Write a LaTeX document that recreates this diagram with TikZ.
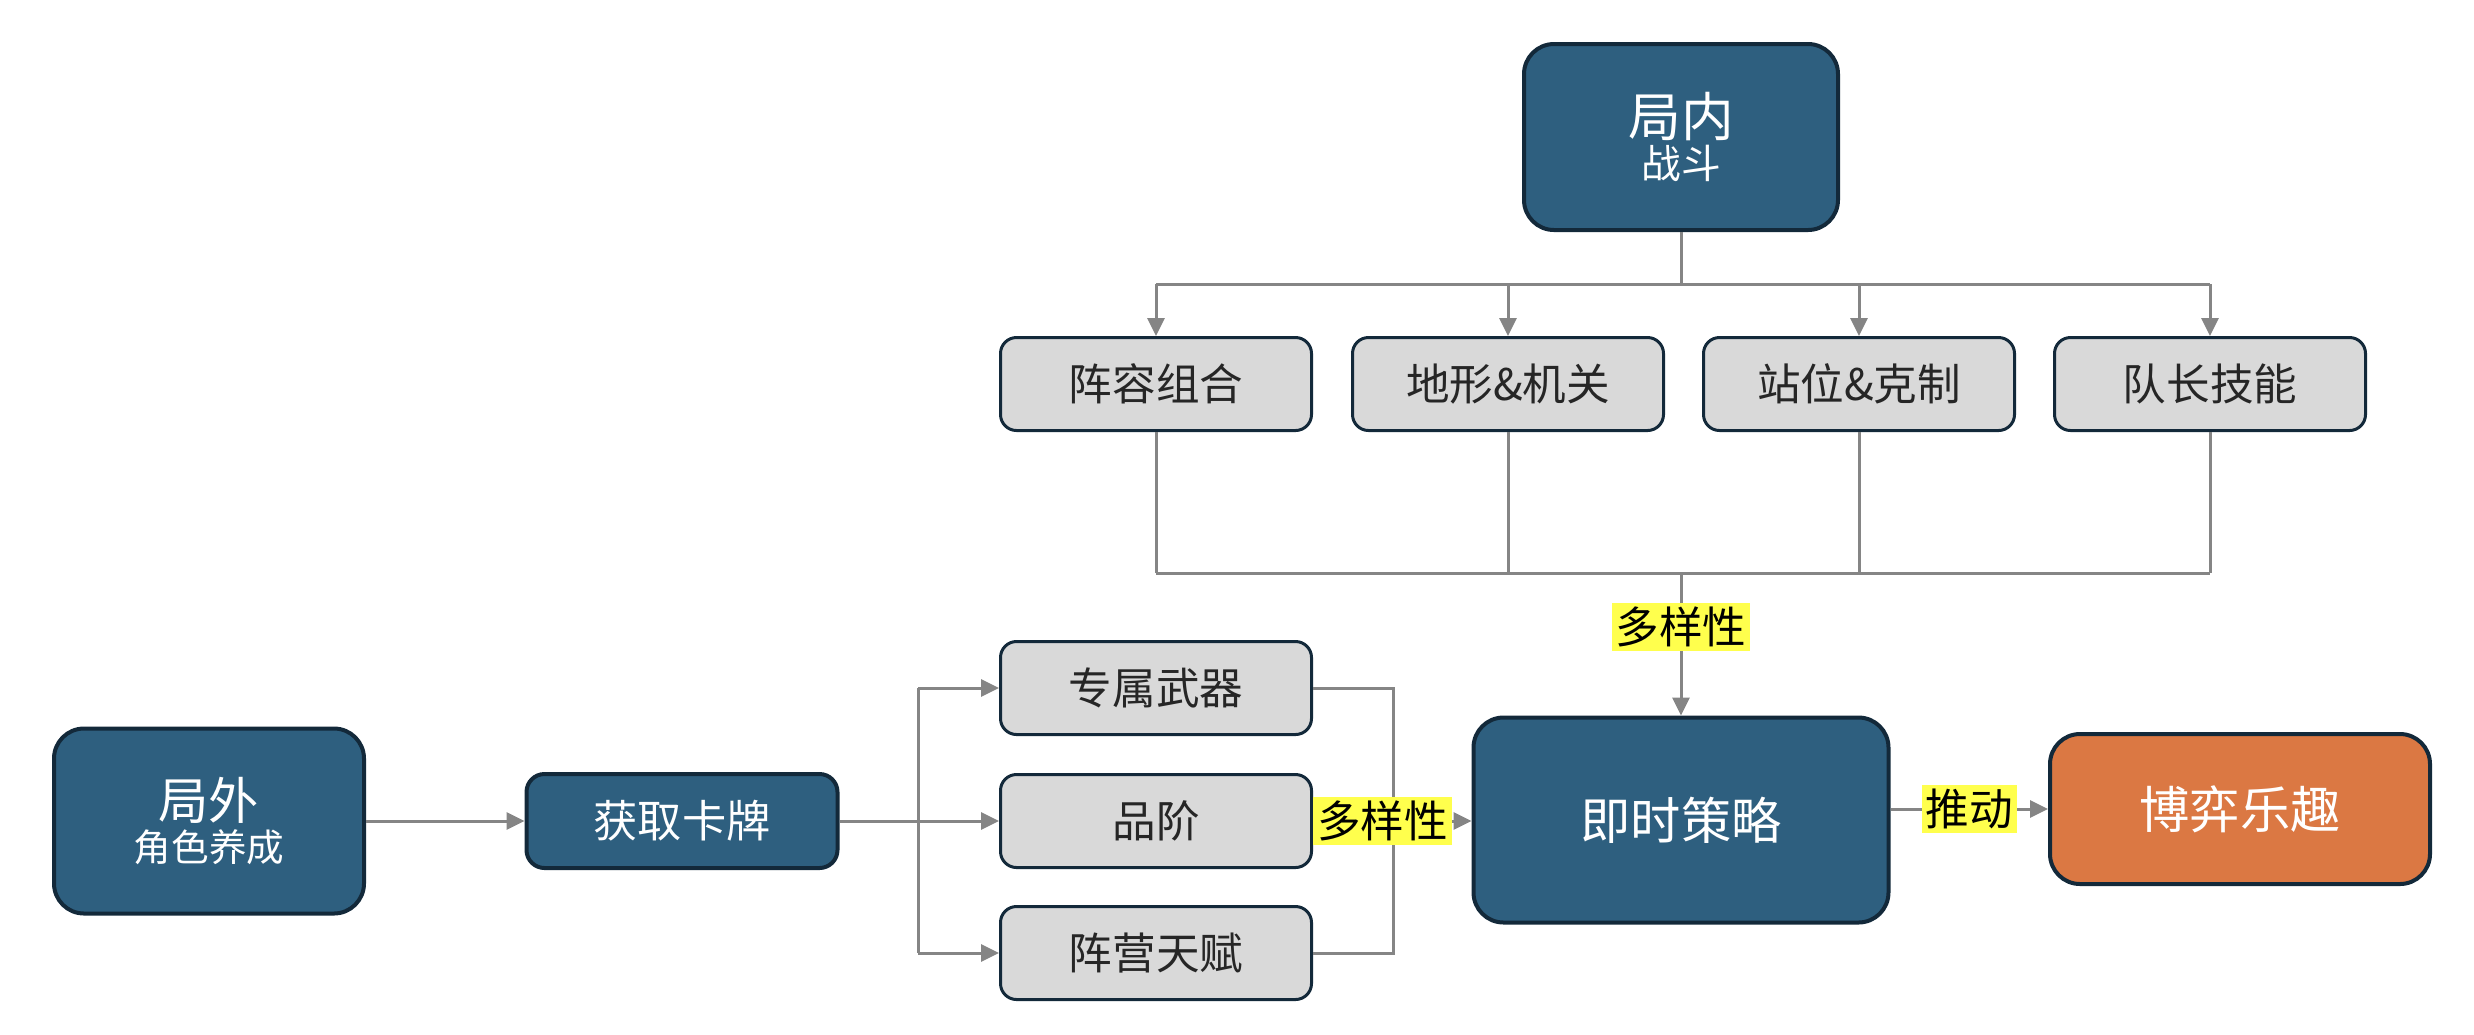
\documentclass[tikz,border=0pt]{standalone}
\usepackage{fontspec}
\setmainfont{Noto Sans CJK SC}
\usetikzlibrary{arrows.meta}
\definecolor{dblue}{HTML}{2E5F7F}
\definecolor{dborder}{HTML}{13293A}
\definecolor{gfill}{HTML}{D9D9D9}
\definecolor{gtext}{HTML}{262626}
\definecolor{ofill}{HTML}{DB7843}
\definecolor{cgray}{HTML}{858585}
\definecolor{hyel}{HTML}{FFFF4D}
\tikzset{
  bluebox/.style={draw=dborder, line width=0.4mm, fill=dblue, rounded corners=3mm, text=white, align=center, inner sep=0pt},
  graybox/.style={draw=dborder, line width=0.3mm, fill=gfill, rounded corners=1.6mm, text=gtext, align=center, inner sep=0pt,
    minimum width=31.1mm, minimum height=9.3mm, font=\fontsize{12.4pt}{14pt}\selectfont},
  orangebox/.style={draw=dborder, line width=0.4mm, fill=ofill, rounded corners=3mm, text=white, align=center, inner sep=0pt},
  conn/.style={draw=cgray, line width=0.3mm},
  arr/.style={conn, -{Triangle[length=1.8mm, width=1.7mm]}},
  hlabel/.style={fill=hyel, text=black, inner sep=0.4mm, font=\fontsize{12.4pt}{14pt}\selectfont}
}
\begin{document}
\begin{tikzpicture}[x=0.1mm, y=-0.1mm]
\useasboundingbox (0,0) rectangle (2474,1034);
% top
\node[bluebox, minimum width=31.4mm, minimum height=18.6mm] (nei) at (1681,137)
  {{\fontsize{15pt}{13pt}\selectfont 局内}\\{\fontsize{11.3pt}{13pt}\selectfont 战斗}};
\node[graybox] (a1) at (1156,384) {阵容组合};
\node[graybox] (a2) at (1508,384) {地形\&机关};
\node[graybox] (a3) at (1859,384) {站位\&克制};
\node[graybox] (a4) at (2210,384) {队长技能};
% centre
\node[bluebox, minimum width=41.5mm, minimum height=20.5mm, font=\fontsize{14.3pt}{17pt}\selectfont] (js) at (1681,820) {即时策略};
\node[orangebox, minimum width=38mm, minimum height=15mm, font=\fontsize{14.3pt}{17pt}\selectfont] (by) at (2240,809) {博弈乐趣};
% left
\node[bluebox, minimum width=31mm, minimum height=18.5mm] (wai) at (209,821)
  {{\fontsize{14.3pt}{14.4pt}\selectfont 局外}\\{\fontsize{10.7pt}{14.4pt}\selectfont 角色养成}};
\node[bluebox, rounded corners=1.8mm, minimum width=31.1mm, minimum height=9.4mm, font=\fontsize{12.6pt}{15pt}\selectfont] (hq) at (682,821) {获取卡牌};
\node[graybox] (b1) at (1156,688) {专属武器};
\node[graybox] (b2) at (1156,821) {品阶};
\node[graybox] (b3) at (1156,953) {阵营天赋};
% top bus
\coordinate (topbus) at (1681,284);
\draw[conn] (nei.south) -- (topbus);
\draw[conn] (topbus -| a1) -- (topbus -| a4);
\foreach \n in {a1,a2,a3,a4} { \draw[arr] (topbus -| \n) -- (\n.north); }
% bottom bus
\coordinate (botbus) at (1681,573);
\foreach \n in {a1,a2,a3,a4} { \draw[conn] (\n.south) -- (botbus -| \n); }
\draw[conn] (botbus -| a1) -- (botbus -| a4);
\draw[arr] (botbus) -- node[hlabel, pos=0.38] {多样性} (js.north);
% left
\draw[arr] (wai.east) -- (hq.west);
\coordinate (lsplit) at (918,821);
\draw[conn] (hq.east) -- (lsplit);
\draw[conn] (lsplit |- b1) -- (lsplit |- b3);
\foreach \n in {b1,b2,b3} { \draw[arr] (lsplit |- \n) -- (\n.west); }
% right join
\coordinate (rj) at (1393,821);
\draw[conn] (b1.east) -| (rj);
\draw[conn] (b3.east) -| (rj);
\draw[arr] (b2.east) -- node[hlabel, pos=0.44] {多样性} (js.west |- b2);
% to fun
\draw[arr] (js.east |- by) -- node[hlabel, pos=0.5] {推动} (by.west);
\end{tikzpicture}
\end{document}
